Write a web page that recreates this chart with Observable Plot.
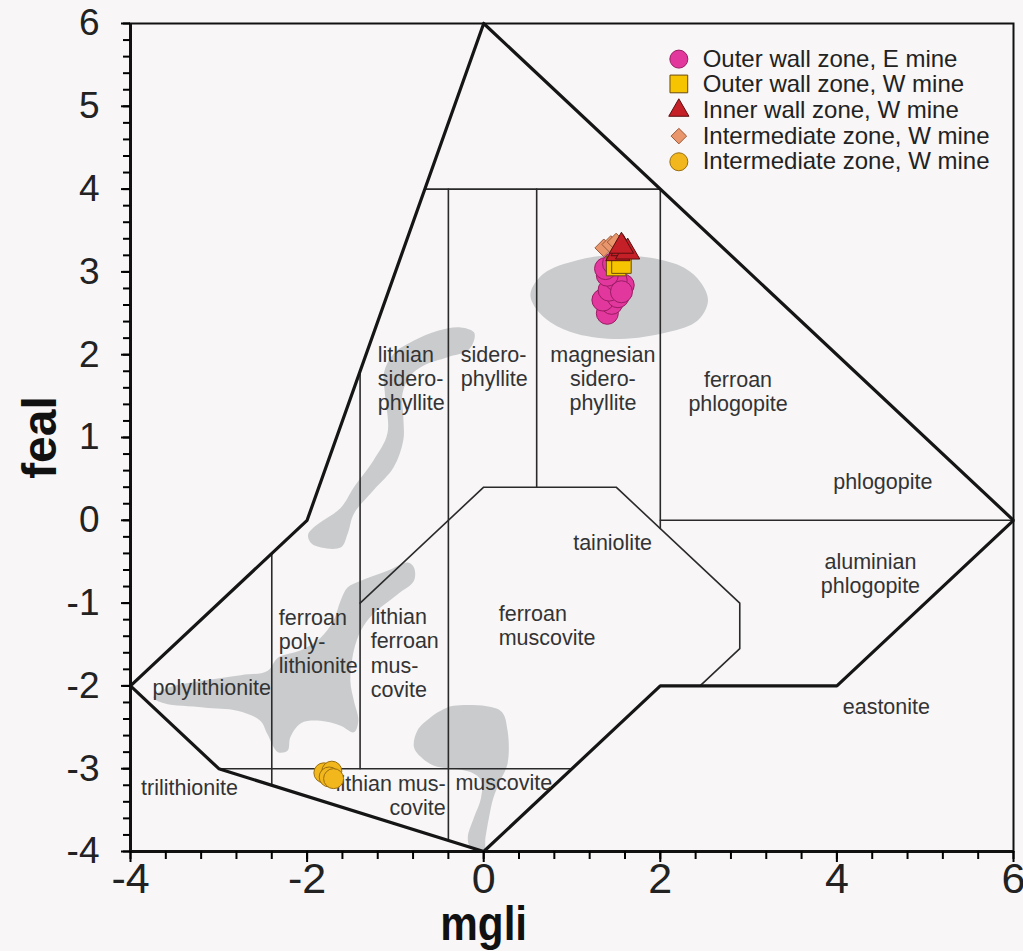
<!DOCTYPE html>
<html><head><meta charset="utf-8">
<script src="https://cdn.jsdelivr.net/npm/d3@7"></script>
<script src="https://cdn.jsdelivr.net/npm/@observablehq/plot@0.6"></script>
<style>
body{margin:0;background:#f8f6f7;}
</style></head><body><div id="chart"></div>
<script>
// ---- diagram geometry (mgli, feal) ----
const boundary = [[0,6],[6,0],[4,-2],[2,-2],[0,-4],[-3,-3],[-4,-2],[-2,0],[0,6]];
const fieldLines = [
  [[-0.667,4],[2,4]],
  [[-0.4,4],[-0.4,-3.867]],
  [[0.6,4],[0.6,0.4]],
  [[2,4],[2,-0.1]],
  [[2,0],[6,0]],
  [[-1.4,1.8],[-1.4,-3]],
  [[-2.4,-0.4],[-2.4,-3.2]],
  [[-3,-3],[1,-3]],
  [[-1.4,-1.0],[0,0.4],[1.5,0.4],[2.9,-1.0],[2.9,-1.55],[2.45,-2]]
];
// gray fields of literature data
const blobMagnesian = [[0.53,2.74],[0.68,2.98],[1.06,3.14],[1.44,3.20],[1.89,3.17],[2.27,3.05],[2.46,2.87],[2.54,2.65],[2.42,2.41],[2.08,2.27],[1.55,2.19],[1.06,2.25],[0.76,2.39],[0.59,2.56]];
const blobLithianSid = [[-0.11,2.27],[-0.26,2.33],[-0.52,2.29],[-0.79,2.17],[-1.02,2.01],[-1.13,1.78],[-1.12,1.54],[-1.09,1.05],[-1.25,0.72],[-1.47,0.40],[-1.62,0.15],[-1.93,-0.09],[-1.99,-0.18],[-1.94,-0.29],[-1.62,-0.33],[-1.54,-0.16],[-1.47,0.08],[-1.25,0.36],[-1.02,0.64],[-0.91,0.97],[-0.91,1.24],[-0.92,1.53],[-0.83,1.75],[-0.68,1.87],[-0.41,1.97],[-0.18,2.05],[-0.11,2.17]];
const blobPolylith = [[-0.79,-0.57],[-0.86,-0.51],[-1.09,-0.61],[-1.39,-0.73],[-1.54,-0.81],[-1.62,-0.97],[-1.70,-1.21],[-1.85,-1.42],[-2.07,-1.57],[-2.33,-1.66],[-2.45,-1.82],[-2.75,-1.87],[-3.20,-1.94],[-3.60,-2.03],[-3.74,-2.14],[-3.62,-2.21],[-3.17,-2.26],[-2.79,-2.30],[-2.53,-2.42],[-2.45,-2.58],[-2.33,-2.80],[-2.22,-2.78],[-2.19,-2.62],[-2.07,-2.45],[-1.85,-2.42],[-1.62,-2.48],[-1.47,-2.56],[-1.42,-2.42],[-1.47,-2.18],[-1.51,-1.94],[-1.47,-1.57],[-1.39,-1.33],[-1.25,-1.13],[-0.97,-0.89],[-0.79,-0.73]];
const blobMuscovite = [[-0.34,-2.24],[0.19,-2.30],[0.27,-2.54],[0.27,-2.94],[0.19,-3.14],[0.11,-3.35],[0.06,-3.59],[0.02,-3.83],[0.0,-3.99],[-0.15,-3.95],[-0.18,-3.83],[-0.11,-3.59],[-0.03,-3.35],[-0.03,-3.14],[-0.15,-3.04],[-0.57,-2.96],[-0.71,-2.86],[-0.79,-2.74],[-0.75,-2.54],[-0.60,-2.38],[-0.45,-2.28]];

const fieldNames = [
  "lithian\nsidero-\nphyllite","sidero-\nphyllite","magnesian\nsidero-\nphyllite","ferroan\nphlogopite",
  "phlogopite","tainiolite","aluminian\nphlogopite","ferroan\nmuscovite","eastonite",
  "ferroan\npoly-\nlithionite","lithian\nferroan\nmus-\ncovite","polylithionite","trilithionite",
  "lithian mus-\ncovite","muscovite"
];
const fieldX = [-1.20,-0.26,1.35,2.88,4.52,1.46,4.38,0.17,4.56,-2.32,-1.28,-3.75,-3.88,-0.43,-0.32];
const fieldY = [1.72,1.86,1.72,1.56,0.47,-0.27,-0.64,-1.27,-2.25,-1.46,-1.60,-2.02,-3.23,-3.32,-3.17];
const fieldAnchor = ["start","start","middle","middle","middle","middle","middle","start","middle","start","start","start","start","end","start"];

// ---- sample data ----
const seriesNames = ["Outer wall zone, E mine","Outer wall zone, W mine","Inner wall zone, W mine","Intermediate zone, W mine","Intermediate zone, W mine"];
const outerE = [[1.40,2.50],[1.45,2.62],[1.35,2.66],[1.52,2.70],[1.42,2.78],[1.58,2.84],[1.50,2.90],[1.40,2.96],[1.38,3.04],[1.47,3.10],[1.56,2.76]];
const outerW = [[1.50,3.07],[1.56,3.10]];
const innerW = [[1.52,3.22],[1.58,3.28],[1.63,3.24],[1.56,3.31]];
const interW = [[1.36,3.29],[1.44,3.33],[1.50,3.36]];
const interW2 = [[-1.81,-3.05],[-1.72,-3.03],[-1.75,-3.10],[-1.70,-3.12]];

const xMajor = [-4,-2,0,2,4,6];
const yMajor = [-4,-3,-2,-1,0,1,2,3,4,5,6];

// ---- build ----
const styles = [
  {symbol:"circle", fill:"#e2379d", stroke:"#9a1c63", r:11, lr:9},
  {symbol:"square", fill:"#f6c400", stroke:"#6b4a10", r:11, lr:10},
  {symbol:"triangle", fill:"#c51f27", stroke:"#5a1010", r:9, lr:7.5},
  {symbol:"diamond2", fill:"#e9966c", stroke:"#9a5a3a", r:8, lr:7},
  {symbol:"circle", fill:"#f2b71c", stroke:"#9a6e10", r:10, lr:9}
];
const sets = [outerE, outerW, innerW, interW, interW2];
const drawOrder = [0,1,3,2,4];

const lineRows = fieldLines.flatMap((seg,i)=>seg.map(([x,y])=>({x,y,id:i})));
const blobRows = [blobMagnesian, blobLithianSid, blobPolylith, blobMuscovite]
  .flatMap((b,i)=>b.map(([x,y])=>({x,y,id:i})));
const labels = fieldNames.map((t,i)=>({t, x:fieldX[i], y:fieldY[i], a:fieldAnchor[i]}));

const legendX = 2.21, legendTextX = 2.48;
const legendY = [5.57,5.27,4.95,4.64,4.33];
const legendRows = seriesNames.map((n,i)=>({n, i, x:legendX, y:legendY[i]}));

const minorX = d3.range(0,26).map(i=>+(-4+i*0.4).toFixed(2));
const minorY = d3.range(0,51).map(i=>+(-4+i*0.2).toFixed(2));

const font = "Liberation Sans, Arial, Helvetica, sans-serif";
const labelOpts = {x:"x", y:"y", text:"t", fontSize:21.5, lineHeight:1.12, fill:"#333", fontFamily:font};

const marks = [
  Plot.line(blobRows, {x:"x", y:"y", z:"id", curve:"catmull-rom-closed", fill:"#c9cbcd", stroke:"none"}),
  Plot.line(lineRows, {x:"x", y:"y", z:"id", stroke:"#2a2a2a", strokeWidth:1.6}),
  Plot.line(boundary.map(([x,y])=>({x,y})), {x:"x", y:"y", stroke:"#151515", strokeWidth:3.2, strokeLinejoin:"miter"}),
  Plot.text(labels.filter(d=>d.a==="start"), {...labelOpts, textAnchor:"start"}),
  Plot.text(labels.filter(d=>d.a==="middle"), {...labelOpts, textAnchor:"middle"}),
  Plot.text(labels.filter(d=>d.a==="end"), {...labelOpts, textAnchor:"end"}),
  ...drawOrder.map(k => Plot.dot(sets[k].map(([x,y])=>({x,y})), {x:"x", y:"y", symbol:styles[k].symbol, r:styles[k].r, fill:styles[k].fill, stroke:styles[k].stroke, strokeWidth:1})),
  ...legendRows.map(d => Plot.dot([d], {x:"x", y:"y", symbol:styles[d.i].symbol, r:styles[d.i].lr, fill:styles[d.i].fill, stroke:styles[d.i].stroke, strokeWidth:1})),
  Plot.text(legendRows, {x:()=>legendTextX, y:"y", text:"n", textAnchor:"start", fontSize:24, fill:"#222", fontFamily:font}),
  Plot.frame({stroke:"#111", strokeWidth:2}),
  Plot.ruleX([-4], {stroke:"#111", strokeWidth:3}),
  Plot.ruleY([-4], {stroke:"#111", strokeWidth:3}),
  Plot.axisX({ticks:minorX, tickSize:8, strokeWidth:2, tickFormat:()=>"", label:null}),
  Plot.axisX({ticks:xMajor, tickSize:11, strokeWidth:2, tickPadding:0, tickFormat:d=>String(d), fontSize:43, fill:"#222", fontFamily:font, label:null}),
  Plot.axisY({ticks:minorY, tickSize:7, strokeWidth:2, tickFormat:()=>"", label:null}),
  Plot.axisY({ticks:yMajor, tickSize:9, strokeWidth:2, tickPadding:22, tickFormat:d=>String(d), fontSize:37, fill:"#222", fontFamily:font, label:null}),
  Plot.text(["feal"], {frameAnchor:"left", dx:-90, rotate:-90, textAnchor:"middle", fontSize:48, fontWeight:"bold", fill:"#111", fontFamily:font}),
  Plot.text(["mgli"], {x:[0], frameAnchor:"bottom", dy:88, fontSize:48, fontWeight:"bold", fill:"#111", fontFamily:font})
];

const chart = Plot.plot({
  width:1023, height:951,
  marginLeft:130, marginRight:10, marginTop:23, marginBottom:100,
  x:{domain:[-4,6]}, y:{domain:[-4,6]},
  style:{background:"#f8f6f7", fontFamily:font},
  marks
});
document.getElementById("chart").appendChild(chart);

// condense the x tick labels and the x title horizontally, as in the reference
function condense(el, k) {
  const tr = el.getAttribute("transform") || "";
  const x = +(el.getAttribute("x") || 0), y = +(el.getAttribute("y") || 0);
  el.removeAttribute("x"); el.removeAttribute("y");
  el.setAttribute("transform", `${tr} translate(${x},${y}) scale(${k},1)`);
}
const xLabelSet = new Set(xMajor.map(String));
chart.querySelectorAll("text").forEach(el => {
  const s = el.textContent;
  if (s === "mgli") { condense(el, 0.88); return; }
  if (xLabelSet.has(s)) {
    const b = el.getBoundingClientRect();
    if (b.top > 855) condense(el, 0.6);
  }
});
</script></body></html>
